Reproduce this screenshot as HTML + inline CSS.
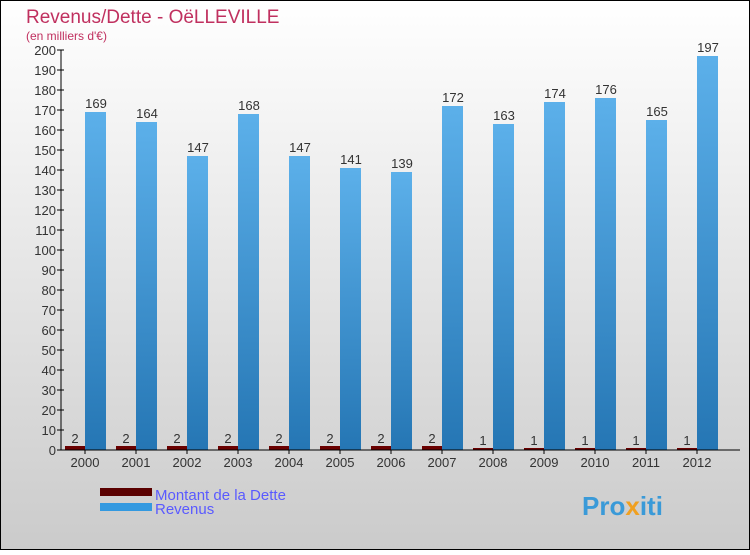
<!DOCTYPE html>
<html><head><meta charset="utf-8"><style>
body{margin:0}
#c{width:750px;height:550px;position:relative;font-family:"Liberation Sans",sans-serif}
</style></head><body>
<div id="c">
<svg width="750" height="550" xmlns="http://www.w3.org/2000/svg" id="svg">
<defs>
<linearGradient id="bg" x1="0" y1="0" x2="0" y2="1"><stop offset="0" stop-color="#ffffff"/><stop offset="1" stop-color="#cbcbcb"/></linearGradient>
<linearGradient id="bl" x1="0" y1="0" x2="0" y2="1"><stop offset="0" stop-color="#5cb0ea"/><stop offset="1" stop-color="#2576b4"/></linearGradient>
</defs>
<rect x="0.5" y="0.5" width="749" height="549" fill="url(#bg)" stroke="#000"/>
<text x="26" y="23" font-size="19" fill="#c0305f">Revenus/Dette - OëLLEVILLE</text>
<text x="26" y="40" font-size="12" fill="#c0305f">(en milliers d'€)</text>
<g id="plot"></g>
<rect x="100" y="488" width="52" height="8" fill="#5a0000"/>
<rect x="100" y="503" width="52" height="8" fill="#3399e0"/>
<text x="155" y="500" font-size="15" fill="#5a5aff">Montant de la Dette</text>
<text x="155" y="514" font-size="15" fill="#5a5aff">Revenus</text>
<text x="582" y="515" font-size="26" font-weight="bold" fill="#3a9ad8">Pro<tspan fill="#f0a020">x</tspan>iti</text>
</svg>
</div>
<script>
const years=["2000","2001","2002","2003","2004","2005","2006","2007","2008","2009","2010","2011","2012"];
const dette=[2,2,2,2,2,2,2,2,1,1,1,1,1];
const revenus=[169,164,147,168,147,141,139,172,163,174,176,165,197];
const yTicks=[0,10,20,30,40,50,60,70,80,90,100,110,120,130,140,150,160,170,180,190,200];
const NS="http://www.w3.org/2000/svg";
const g=document.getElementById('plot');
const y0=450,ppu=2,x0=61,step=51,bw=21;
const ys=v=>y0-v*ppu;
const gx=i=>65+i*step;
function mk(t,a){const e=document.createElementNS(NS,t);for(const k in a)e.setAttribute(k,a[k]);g.appendChild(e);return e;}
yTicks.forEach(v=>{
 const l=mk('line',{x1:x0-4,x2:x0+3,y1:ys(v),y2:ys(v),stroke:'#000'});
 
 
 const t=mk('text',{x:x0-5,y:ys(v)+5,'font-size':13,'text-anchor':'end',fill:'#333'});
 t.textContent=v;
 
 
});
years.forEach((yr,i)=>{
 const x=gx(i);
 const d=mk('rect',{x:x,y:ys(dette[i]),width:bw-1,height:dette[i]*ppu,fill:'#6a0000'});
 
 
 const r=mk('rect',{x:x+bw-1,y:ys(revenus[i]),width:bw,height:revenus[i]*ppu,fill:'url(#bl)'});
 
 
 const dl=mk('text',{x:x+10,y:ys(dette[i])-3,'font-size':13,'text-anchor':'middle',fill:'#333'});
 dl.textContent=dette[i];
 
 
 const rl=mk('text',{x:x+bw+10,y:ys(revenus[i])-4,'font-size':13,'text-anchor':'middle',fill:'#333'});
 rl.textContent=revenus[i];
 
 
 const xl=mk('text',{x:x+bw-1,y:467,'font-size':13,'text-anchor':'middle',fill:'#333'});
 xl.textContent=yr;
 
 
 const tk=mk('line',{x1:x+bw-1,x2:x+bw-1,y1:y0,y2:y0+4,stroke:'#000'});
 
 
});
const ya=mk('line',{x1:x0,x2:x0,y1:ys(200),y2:y0,stroke:'#000'});


const xa=mk('line',{x1:x0,x2:740,y1:y0,y2:y0,stroke:'#000'});


</script>
</body></html>
